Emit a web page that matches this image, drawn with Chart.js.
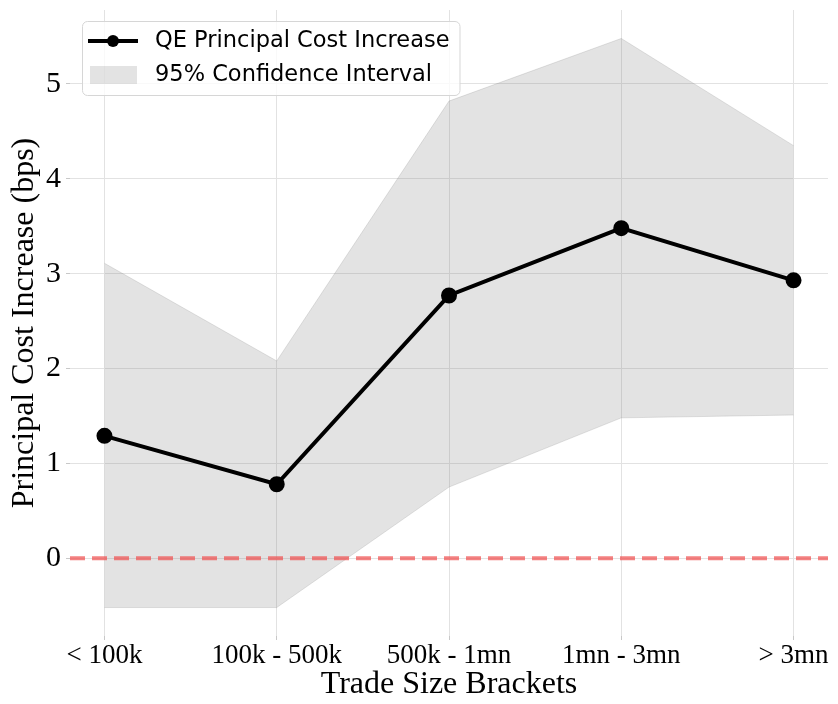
<!DOCTYPE html>
<html>
<head>
<meta charset="utf-8">
<script src="https://cdn.jsdelivr.net/npm/chart.js@4"></script>
<style>
  body { margin: 0; background: #fff; }
  canvas { display: block; }
</style>
</head>
<body>
<canvas id="costChart" width="838" height="704"></canvas>
<script>
// data
const brackets = ["< 100k", "100k - 500k", "500k - 1mn", "1mn - 3mn", "> 3mn"];
const costIncrease = [1.29, 0.78, 2.77, 3.48, 2.93];
const ciUpper = [3.11, 2.08, 4.82, 5.48, 4.35];
const ciLower = [-0.52, -0.52, 0.75, 1.48, 1.51];
const yTicks = [0, 1, 2, 3, 4, 5];

const serif = "'Liberation Serif', 'Times New Roman', serif";
const sans = "'DejaVu Sans', sans-serif";

const toPoints = arr => arr.map((v, i) => ({ x: i, y: v }));

/* ===== zero line + legend drawn inside the plot ===== */
const extras = {
  id: "extras",
  afterDatasetsDraw(chart) {
    const { ctx, chartArea, scales } = chart;
    const y0 = scales.y.getPixelForValue(0);
    ctx.save();
    ctx.strokeStyle = "rgba(240, 80, 80, 0.72)";
    ctx.lineWidth = 4;
    ctx.setLineDash([15, 7]);
    ctx.beginPath();
    ctx.moveTo(chartArea.left, y0);
    ctx.lineTo(chartArea.right, y0);
    ctx.stroke();
    ctx.restore();

    // legend
    const items = [
      { label: chart.data.datasets[0].label, kind: "line" },
      { label: chart.data.datasets[1].label, kind: "patch" }
    ];
    ctx.save();
    ctx.font = "22.5px " + sans;
    const textW = Math.max(...items.map(it => ctx.measureText(it.label).width));
    const bx = chartArea.left + 12, by = chartArea.top + 11;
    const bw = 73 + textW + 10, bh = 74;
    ctx.beginPath();
    ctx.roundRect(bx + 0.5, by + 0.5, bw, bh, 5);
    ctx.fillStyle = "rgba(255,255,255,0.8)";
    ctx.fill();
    ctx.strokeStyle = "#d6d6d6";
    ctx.lineWidth = 1;
    ctx.stroke();

    items.forEach((it, i) => {
      const cy = by + 20 + i * 34;
      if (it.kind === "line") {
        ctx.strokeStyle = "#000";
        ctx.lineWidth = 4;
        ctx.beginPath();
        ctx.moveTo(bx + 6, cy);
        ctx.lineTo(bx + 56, cy);
        ctx.stroke();
        ctx.beginPath();
        ctx.arc(bx + 31, cy, 6, 0, Math.PI * 2);
        ctx.fillStyle = "#000";
        ctx.fill();
      } else {
        ctx.fillStyle = "rgba(128,128,128,0.22)";
        ctx.fillRect(bx + 8, cy - 9, 47, 18);
      }
      ctx.fillStyle = "#000";
      ctx.textBaseline = "middle";
      ctx.fillText(it.label, bx + 73, cy);
    });
    ctx.restore();
  }
};

new Chart(document.getElementById("costChart"), {
  type: "line",
  data: {
    datasets: [
      {
        label: "QE Principal Cost Increase",
        data: toPoints(costIncrease),
        borderColor: "#000",
        backgroundColor: "#000",
        borderWidth: 4,
        pointRadius: 6,
        pointBackgroundColor: "#000",
        tension: 0,
        fill: false
      },
      {
        label: "95% Confidence Interval",
        data: toPoints(ciUpper),
        borderColor: "rgba(128,128,128,0.22)",
        borderWidth: 1,
        pointRadius: 0,
        backgroundColor: "rgba(128,128,128,0.22)",
        fill: "+1"
      },
      {
        label: "ci-lower",
        data: toPoints(ciLower),
        borderColor: "rgba(128,128,128,0.22)",
        borderWidth: 1,
        pointRadius: 0,
        fill: false
      }
    ]
  },
  options: {
    responsive: false,
    animation: false,
    layout: { padding: { top: 7, right: 4, left: 0, bottom: 0 } },
    plugins: { legend: { display: false }, tooltip: { enabled: false } },
    scales: {
      x: {
        type: "linear",
        min: -0.2,
        max: 4.2,
        border: { display: false },
        grid: { color: "#e2e2e2", lineWidth: 1, tickLength: 4, tickColor: "#c8c8c8" },
        ticks: {
          stepSize: 1,
          includeBounds: false,
          autoSkip: false,
          maxRotation: 0,
          padding: 2,
          color: "#000",
          font: { family: serif, size: 27, lineHeight: 1 },
          callback: v => brackets[v]
        },
        title: {
          display: true,
          text: "Trade Size Brackets",
          color: "#000",
          font: { family: serif, size: 32, lineHeight: 1.2 },
          padding: { top: 0, bottom: 0 }
        },
        afterFit: s => { s.height = 68; s.paddingLeft = 0; s.paddingRight = 0; }
      },
      y: {
        min: -0.82,
        max: 5.78,
        border: { display: false },
        grid: { color: "#e2e2e2", lineWidth: 1, tickLength: 4, tickColor: "#c8c8c8" },
        afterBuildTicks: s => { s.ticks = yTicks.map(v => ({ value: v })); },
        ticks: {
          padding: 5,
          color: "#000",
          font: { family: serif, size: 30 }
        },
        title: {
          display: true,
          text: "Principal Cost Increase (bps)",
          color: "#000",
          font: { family: serif, size: 32, lineHeight: 1.2 },
          padding: { top: 5, bottom: 0 }
        },
        afterFit: s => { s.width = 70; s.paddingTop = 0; s.paddingBottom = 0; }
      }
    }
  },
  plugins: [extras]
});
</script>
</body>
</html>
